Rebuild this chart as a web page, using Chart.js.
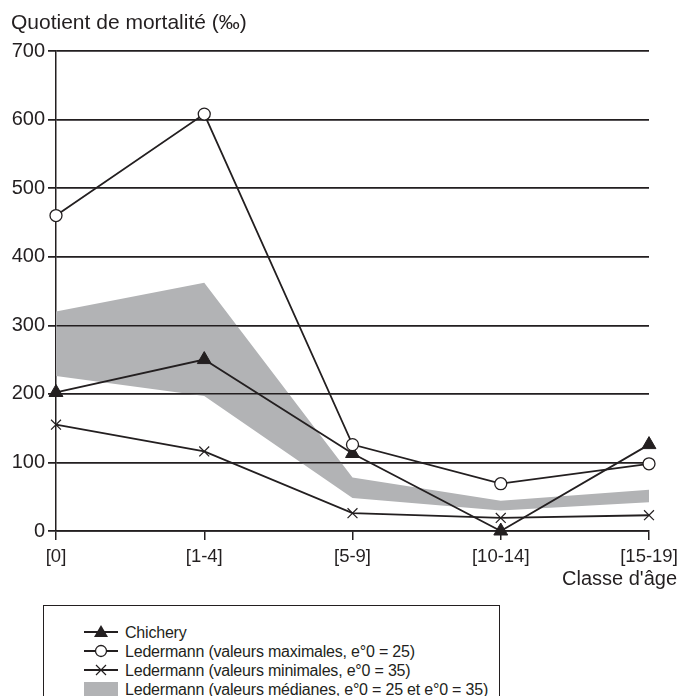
<!DOCTYPE html>
<html>
<head>
<meta charset="utf-8">
<script src="https://cdn.jsdelivr.net/npm/chart.js@4/dist/chart.umd.min.js"></script>
<style>
  body { margin: 0; background: #fff; font-family: "Liberation Sans", Arial, sans-serif; color: #231f20; }
  #wrap { position: relative; width: 679px; height: 696px; overflow: hidden; }
  #chart { position: absolute; left: 0; top: 0; }
  .titre { position: absolute; left: 11px; top: 10px; font-size: 21px; }
  .axe-x { position: absolute; right: 2px; top: 567px; font-size: 20px; }
  .legende { position: absolute; left: 43px; top: 605px; width: 457px; height: 110px; border: 1.5px solid #231f20; box-sizing: border-box; }
  .ligne { position: absolute; left: 40px; font-size: 16px; letter-spacing: -0.2px; line-height: 19px; white-space: nowrap; }
  .ligne svg { vertical-align: middle; margin-right: 7px; position: relative; top: -2px; }
</style>
</head>
<body>
<div id="wrap">
  <canvas id="chart" width="679" height="590"></canvas>
  <div class="titre">Quotient de mortalité (‰)</div>
  <div class="axe-x">Classe d'âge</div>
  <div class="legende">
    <div class="ligne" style="top:17px"><svg width="34" height="16"><line x1="0" y1="8" x2="34" y2="8" stroke="#231f20" stroke-width="1.8"/><polygon points="17,1 24,13 10,13" fill="#231f20"/></svg>Chichery</div>
    <div class="ligne" style="top:36px"><svg width="34" height="16"><line x1="0" y1="8" x2="34" y2="8" stroke="#231f20" stroke-width="1.8"/><circle cx="17" cy="8" r="5.5" fill="#fff" stroke="#231f20" stroke-width="1.3"/></svg>Ledermann (valeurs maximales, e°0 = 25)</div>
    <div class="ligne" style="top:55px"><svg width="34" height="16"><line x1="0" y1="8" x2="34" y2="8" stroke="#231f20" stroke-width="1.8"/><path d="M12 3 L22 13 M22 3 L12 13" stroke="#231f20" stroke-width="1.2"/></svg>Ledermann (valeurs minimales, e°0 = 35)</div>
    <div class="ligne" style="top:74px"><svg width="34" height="16"><rect x="0" y="1" width="34" height="14" fill="#b2b3b5"/></svg>Ledermann (valeurs médianes, e°0 = 25 et e°0 = 35)</div>
  </div>
</div>
<script>
const classes = ["[0]", "[1-4]", "[5-9]", "[10-14]", "[15-19]"];
const chichery = [202, 250, 113, 0, 126];
const ledermann_max = [460, 608, 126, 69, 98];
const ledermann_min = [155, 116, 26, 19, 23];
const mediane_basse = [226, 197, 48, 30, 42];
const mediane_haute = [320, 362, 78, 44, 60];
const ticks_y = [0, 100, 200, 300, 400, 500, 600, 700];

const noir = "#231f20";
const famille = "'Liberation Sans', Arial, sans-serif";

// la grille horizontale passe par-dessus la bande grise, mais sous les courbes
const grille_sur_bande = {
  id: "grilleSurBande",
  afterDatasetDraw: (chart, args) => {
    if (args.index === 1) {
      chart.scales.y.drawGrid(chart.chartArea);
    }
  },
};

const ctx = document.getElementById("chart").getContext("2d");
new Chart(ctx, {
  type: "line",
  data: {
    labels: classes,
    datasets: [
      {
        data: mediane_basse,
        borderWidth: 0,
        pointRadius: 0,
        fill: false,
        order: 10,
      },
      {
        data: mediane_haute,
        borderWidth: 0,
        pointRadius: 0,
        backgroundColor: "#b2b3b5",
        fill: "-1",
        order: 10,
      },
      {
        data: ledermann_min,
        borderColor: noir,
        borderWidth: 1.8,
        pointStyle: "crossRot",
        pointRadius: 7,
        pointBorderWidth: 1.2,
        pointBorderColor: noir,
        clip: false,
      },
      {
        data: ledermann_max,
        borderColor: noir,
        borderWidth: 1.8,
        pointStyle: "circle",
        pointRadius: 6,
        pointBorderWidth: 1.3,
        pointBorderColor: noir,
        pointBackgroundColor: "#fff",
        clip: false,
      },
      {
        data: chichery,
        borderColor: noir,
        borderWidth: 1.8,
        pointStyle: "triangle",
        pointRadius: 8,
        pointBorderWidth: 1,
        pointBorderColor: noir,
        pointBackgroundColor: noir,
        clip: false,
      },
    ],
  },
  options: {
    responsive: false,
    animation: false,
    layout: { padding: { top: 51, right: 30, left: 0, bottom: 0 } },
    plugins: {
      legend: { display: false },
      tooltip: { enabled: false },
    },
    scales: {
      x: {
        offset: false,
        grid: { drawOnChartArea: false, color: noir, lineWidth: 1.5, tickLength: 9 },
        border: { color: noir, width: 1.5 },
        ticks: { color: noir, font: { family: famille, size: 18.5 }, padding: 6, maxRotation: 0, autoSkip: false },
        afterFit: (scale) => {
          scale.height = 59;
          scale.paddingLeft = 0;
          scale.paddingRight = 0;
        },
      },
      y: {
        min: 0,
        max: 700,
        afterBuildTicks: (scale) => { scale.ticks = ticks_y.map((v) => ({ value: v })); },
        grid: { color: noir, lineWidth: 1.5, tickLength: 8 },
        border: { color: noir, width: 1.5 },
        ticks: { color: noir, font: { family: famille, size: 20 }, padding: 3 },
        afterFit: (scale) => { scale.width = 56; },
      },
    },
  },
  plugins: [grille_sur_bande],
});
</script>
</body>
</html>
